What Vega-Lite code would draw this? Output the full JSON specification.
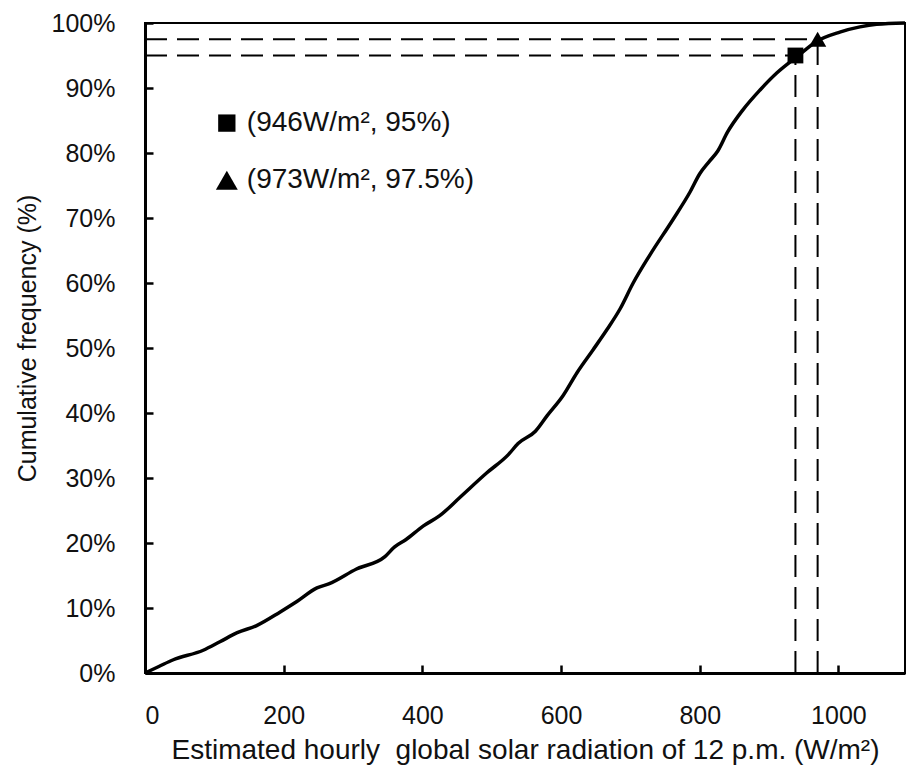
{
  "$schema": "https://vega.github.io/schema/vega-lite/v6.json",
  "width": 760,
  "height": 650,
  "autosize": {"type": "none"},
  "padding": {"left": 145, "top": 23, "right": 1, "bottom": 98},
  "background": "white",
  "config": {
    "font": "Liberation Sans",
    "view": {"stroke": "black", "strokeWidth": 2},
    "axis": {
      "grid": false,
      "domainColor": "black",
      "domainWidth": 3,
      "tickColor": "black",
      "tickWidth": 2.5,
      "labelFont": "Liberation Sans",
      "labelFontSize": 25,
      "labelColor": "#111",
      "titleFont": "Liberation Sans",
      "titleFontWeight": "normal",
      "titleColor": "#111"
    }
  },
  "datasets": {
    "curve": [
      {"x": 0, "y": 0}, {"x": 20, "y": 1}, {"x": 40, "y": 2}, {"x": 84, "y": 3.5},
      {"x": 108, "y": 4.8}, {"x": 133, "y": 6.2}, {"x": 161, "y": 7.3}, {"x": 195, "y": 9.4},
      {"x": 219, "y": 11}, {"x": 248, "y": 13.1}, {"x": 265, "y": 13.7}, {"x": 305, "y": 16},
      {"x": 346, "y": 17.9}, {"x": 360, "y": 19.4}, {"x": 376, "y": 20.5}, {"x": 401, "y": 22.6},
      {"x": 425, "y": 24.2}, {"x": 454, "y": 27}, {"x": 493, "y": 30.8}, {"x": 524, "y": 33.6},
      {"x": 538, "y": 35.3}, {"x": 563, "y": 37.2}, {"x": 580, "y": 39.6}, {"x": 603, "y": 42.7},
      {"x": 623, "y": 46.2}, {"x": 646, "y": 49.7}, {"x": 666, "y": 52.8}, {"x": 685, "y": 56},
      {"x": 704, "y": 60}, {"x": 728, "y": 64.3}, {"x": 761, "y": 69.7}, {"x": 786, "y": 74},
      {"x": 800, "y": 76.8}, {"x": 813, "y": 78.6}, {"x": 826, "y": 80.3}, {"x": 840, "y": 83.2},
      {"x": 862, "y": 86.6}, {"x": 887, "y": 89.7}, {"x": 911, "y": 92.3}, {"x": 940, "y": 94.8},
      {"x": 969, "y": 97.2}, {"x": 1002, "y": 98.6}, {"x": 1031, "y": 99.4}, {"x": 1055, "y": 99.8},
      {"x": 1096, "y": 100}
    ],
    "refs": [
      {"x0": 0, "x": 938, "y0": 0, "y": 95, "shape": "square", "label": "(946W/m², 95%)", "lx": 118, "ly": 84.6},
      {"x0": 0, "x": 970, "y0": 0, "y": 97.5, "shape": "triangle-up", "label": "(973W/m², 97.5%)", "lx": 118, "ly": 75.8}
    ]
  },
  "resolve": {"axis": {"x": "independent", "y": "independent"}},
  "layer": [
    {
      "data": {"name": "curve"},
      "mark": {"type": "point", "opacity": 0},
      "encoding": {
        "x": {
          "field": "x", "type": "quantitative",
          "axis": {
            "orient": "top", "offset": -650, "labels": false, "domain": false, "title": null,
            "ticks": true, "tickSize": 8, "values": [0, 200, 400, 600, 800, 1000]
          }
        },
        "y": {
          "field": "y", "type": "quantitative",
          "axis": {
            "orient": "right", "offset": -760, "labels": false, "domain": false, "title": null,
            "ticks": true, "tickSize": 8, "values": [0, 10, 20, 30, 40, 50, 60, 70, 80, 90, 100]
          }
        }
      }
    },
    {
      "layer": [
        {
          "data": {"name": "refs"},
          "mark": {"type": "rule", "color": "black", "strokeWidth": 2, "strokeDash": [22, 10]},
          "encoding": {
            "x": {"field": "x0", "type": "quantitative"},
            "x2": {"field": "x"},
            "y": {"field": "y", "type": "quantitative"}
          }
        },
        {
          "data": {"name": "refs"},
          "mark": {"type": "rule", "color": "black", "strokeWidth": 2, "strokeDash": [22, 10]},
          "encoding": {
            "x": {"field": "x", "type": "quantitative"},
            "y": {"field": "y0", "type": "quantitative"},
            "y2": {"field": "y"}
          }
        },
        {
          "data": {"name": "curve"},
          "mark": {"type": "line", "color": "black", "strokeWidth": 3.5, "interpolate": "monotone"},
          "encoding": {
            "x": {
              "field": "x", "type": "quantitative",
              "scale": {"domain": [0, 1096], "nice": false, "zero": false},
              "axis": {
                "orient": "bottom",
                "values": [0, 200, 400, 600, 800, 1000],
                "format": "d",
                "ticks": false,
                "labelPadding": 30,
                "title": "Estimated hourly\u00a0 global solar radiation of 12 p.m. (W/m²)",
                "titleFontSize": 28,
                "titlePadding": 8
              }
            },
            "y": {
              "field": "y", "type": "quantitative",
              "scale": {"domain": [0, 100], "nice": false},
              "axis": {
                "orient": "left",
                "values": [0, 10, 20, 30, 40, 50, 60, 70, 80, 90, 100],
                "labelExpr": "datum.value + '%'",
                "ticks": false,
                "labelPadding": 30,
                "title": "Cumulative frequency (%)",
                "titleFontSize": 25,
                "titlePadding": 11,
                "titleY": 315
              }
            }
          }
        },
        {
          "data": {"name": "refs"},
          "transform": [{"filter": "datum.shape === 'square'"}],
          "mark": {"type": "point", "shape": "square", "filled": true, "color": "black", "opacity": 1, "size": 250},
          "encoding": {
            "x": {"field": "x", "type": "quantitative"},
            "y": {"field": "y", "type": "quantitative"}
          }
        },
        {
          "data": {"name": "refs"},
          "transform": [{"filter": "datum.shape === 'triangle-up'"}],
          "mark": {"type": "point", "shape": "triangle-up", "filled": true, "color": "black", "opacity": 1, "size": 300},
          "encoding": {
            "x": {"field": "x", "type": "quantitative"},
            "y": {"field": "y", "type": "quantitative"}
          }
        },
        {
          "data": {"name": "refs"},
          "transform": [{"filter": "datum.shape === 'square'"}],
          "mark": {"type": "point", "shape": "square", "filled": true, "color": "black", "opacity": 1, "size": 300},
          "encoding": {
            "x": {"field": "lx", "type": "quantitative"},
            "y": {"field": "ly", "type": "quantitative"}
          }
        },
        {
          "data": {"name": "refs"},
          "transform": [{"filter": "datum.shape === 'triangle-up'"}],
          "mark": {"type": "point", "shape": "triangle-up", "filled": true, "color": "black", "opacity": 1, "size": 480},
          "encoding": {
            "x": {"field": "lx", "type": "quantitative"},
            "y": {"field": "ly", "type": "quantitative"}
          }
        },
        {
          "data": {"name": "refs"},
          "mark": {"type": "text", "align": "left", "baseline": "middle", "font": "Liberation Sans", "fontSize": 28, "color": "#111", "dx": 20},
          "encoding": {
            "x": {"field": "lx", "type": "quantitative"},
            "y": {"field": "ly", "type": "quantitative"},
            "text": {"field": "label"}
          }
        }
      ]
    }
  ]
}
